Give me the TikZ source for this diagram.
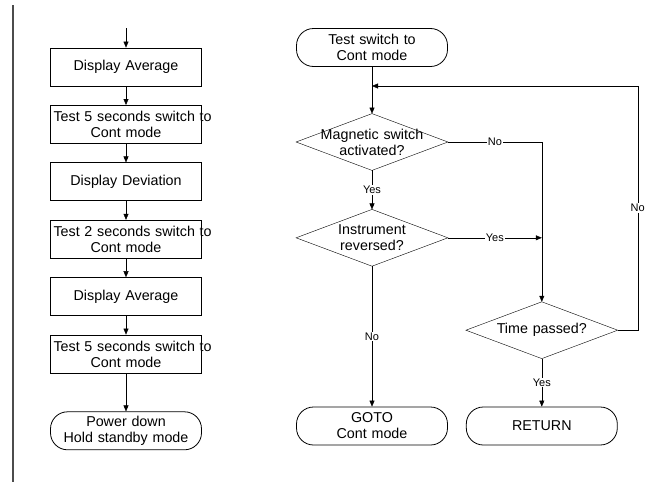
\documentclass[tikz,border=0pt]{standalone}
\usepackage{fontspec}
\setmainfont{Liberation Sans}
\usepackage{tikz}
\usetikzlibrary{arrows.meta,calc,positioning}
\tikzset{%
        >={Triangle[length=6pt,width=5pt]},
        line width=0.8pt,
        node distance=18.6pt
}
\tikzset{
    process/.style={
        draw = black,
        line width = 0.8pt,
        text width = 145pt,
        inner xsep = 3pt,
        inner ysep = 0pt,
        minimum height = 38pt,
        align = center
    },
    terminal/.style={
        process,
        rounded corners = 17pt
    },
    decision/.style={
        process,
        draw = none,
        minimum height = 56pt
    },
    answer/.style={
        fill = white,
        inner sep = 1pt,
        font = \fontsize{11}{12}\selectfont
    }
}

\begin{document}
\begin{tikzpicture}[x=1pt, y=1pt, font=\fontsize{14.3}{16}\selectfont]
        \useasboundingbox (0,0) rectangle (655,-482);
        \draw[line width=2pt, black!70] (12.5,-5) -- (12.5,-482);

        % left column
        \coordinate (0) at (126,-28);
        \node[process] (1) at (126,-67) {Display Average};
        \node[process] (2) [below = of 1] {\mbox{Test 5 seconds switch to}\\Cont mode};
        \node[process] (3) [below = of 2] {Display Deviation};
        \node[process] (4) [below = of 3] {\mbox{Test 2 seconds switch to}\\Cont mode};
        \node[process] (5) [below = of 4] {Display Average};
        \node[process] (6) [below = of 5] {\mbox{Test 5 seconds switch to}\\Cont mode};
        \node[terminal] (7) [below = 38pt of 6] {Power down\\Hold standby mode};

        % right column
        \node[terminal] (8) at (372,-47.5) {Test switch to\\Cont mode};
        \coordinate (j) at (372,-86);
        \node[decision] (9) at (372,-142) {Magnetic switch\\activated?};
        \node[decision] (10) [below = 39pt of 9] {Instrument\\reversed?};
        \node[terminal] (12) at (372,-426) {GOTO\\Cont mode};
        \node[terminal] (13) [right = 18pt of 12] {RETURN};
        \node[decision] (11) [above = 48pt of 13] {Time passed?};

        \foreach \n in {9, 10, 11}
            \draw (\n.north) -- (\n.east) -- (\n.south) -- (\n.west) -- cycle;

        \draw[->] (0) -- (1);
        \foreach \a/\b in {1/2, 2/3, 3/4, 4/5, 5/6, 6/7}
            \draw[->] (\a) -- (\b);

        \draw (8) -- (j);
        \draw[->] (j) -- (9);
        \draw[->] (9) -- node[answer] {Yes} (10);
        \draw[->] (9) -- node[answer] {No} (9 -| 11) -- (11);
        \draw[->] (10) -- node[answer] {Yes} (10 -| 11);
        \draw[->] (10) -- node[answer] {No} (12);
        \draw[->] (11) -- node[answer] {Yes} (13);
        \draw[->] (11.east) -- ++(20,0) |- node[answer, pos=0.25] {No} (j);
\end{tikzpicture}
\end{document}
